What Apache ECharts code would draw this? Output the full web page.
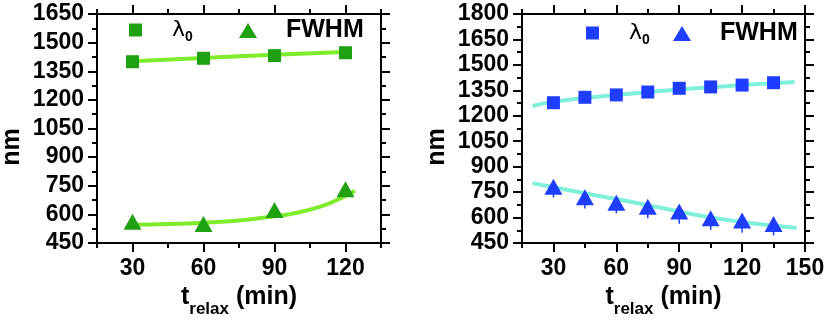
<!DOCTYPE html>
<html>
<head>
<meta charset="utf-8">
<script src="https://cdn.jsdelivr.net/npm/echarts@6/dist/echarts.min.js"></script>
<style>
  html, body { margin: 0; padding: 0; background: #fff; }
  #main { width: 830px; height: 320px; }
</style>
</head>
<body>
<div id="main"></div>
<script>
// left panel: measured points
const tLeft = [30, 60, 90, 120];
const lambdaLeft = [1400, 1418, 1432, 1447];
const fwhmLeft = [562, 550, 623, 732];
// left panel: fitted curves
const fitLambdaLeftT = [30, 60, 90, 122];
const fitLambdaLeftV = [1403, 1420, 1437, 1452];
const fitFwhmLeftT = [30, 45, 60, 75, 90, 100, 110, 118, 124];
const fitFwhmLeftV = [545, 549, 556, 568, 590, 610, 643, 685, 724];

// right panel: measured points
const tRight = [30, 45, 60, 75, 90, 105, 120, 135];
const lambdaRight = [1277, 1309, 1323, 1340, 1362, 1370, 1381, 1395];
const fwhmRight = [782, 719, 688, 664, 635, 596, 582, 562];
const fwhmErrRight = [63, 65, 63, 68, 72, 69, 71, 67];
// right panel: fitted curves
const fitLambdaRightT = [20, 30, 45, 60, 75, 90, 105, 120, 135, 145];
const fitLambdaRightV = [1258, 1283, 1305, 1323, 1340, 1355, 1368, 1381, 1392, 1399];
const fitFwhmRightT = [20, 30, 45, 60, 75, 90, 105, 120, 135, 146];
const fitFwhmRightV = [803, 779, 743, 709, 673, 636, 600, 574, 553, 538];

// tick labels
const xLabelsLeft = [30, 60, 90, 120];
const xLabelsRight = [30, 60, 90, 120, 150];

const FONT = 'Liberation Sans, Arial, sans-serif';
const GREEN = '#1fa010', GREEN_LINE = '#7eec2a';
const BLUE = '#1f3dff', BLUE_LINE = '#80f0da';

const zip = (a, b) => a.map((v, i) => [v, b[i]]);

const line = { show: true, lineStyle: { color: '#000', width: 2 } };
const tickStyle = { color: '#000', width: 2 };

function xAxes(g, min, max, labels) {
  const base = { gridIndex: g, type: 'value', min: min, max: max, interval: 15, splitLine: { show: false } };
  return [
    Object.assign({}, base, {
      position: 'bottom', axisLine: line,
      axisTick: { length: 5, lineStyle: tickStyle },
      axisLabel: { customValues: labels, color: '#000', fontFamily: FONT, fontWeight: 'bold', fontSize: 23, margin: 14 },
      name: '{t|t}{s|relax}{m| (min)}', nameLocation: 'middle', nameGap: 32,
      nameTextStyle: {
        color: '#000', fontFamily: FONT, fontWeight: 'bold',
        rich: {
          t: { fontSize: 25, fontFamily: FONT, fontWeight: 'bold', color: '#000' },
          s: { fontSize: 17, fontFamily: FONT, fontWeight: 'bold', color: '#000', padding: [24, 0, 0, 0] },
          m: { fontSize: 25, fontFamily: FONT, fontWeight: 'bold', color: '#000' }
        }
      }
    }),
    Object.assign({}, base, {
      position: 'bottom', axisLine: { show: false },
      axisTick: { customValues: labels, length: 9, lineStyle: tickStyle },
      axisLabel: { show: false }
    }),
    Object.assign({}, base, {
      position: 'top', axisLine: line,
      axisTick: { length: 5, lineStyle: tickStyle },
      axisLabel: { show: false }
    }),
    Object.assign({}, base, {
      position: 'top', axisLine: { show: false },
      axisTick: { customValues: labels, length: 9, lineStyle: tickStyle },
      axisLabel: { show: false }
    })
  ];
}

function yAxes(g, max) {
  const base = {
    gridIndex: g, type: 'value', min: 450, max: max, interval: 150, splitLine: { show: false },
    axisLine: line, axisTick: { length: 9, lineStyle: tickStyle },
    minorTick: { show: true, splitNumber: 2, length: 5, lineStyle: tickStyle },
    minorSplitLine: { show: false }
  };
  return [
    Object.assign({}, base, {
      position: 'left',
      axisLabel: { formatter: v => String(v), color: '#000', fontFamily: FONT, fontWeight: 'bold', fontSize: 23, margin: 13 },
      name: 'nm', nameLocation: 'middle', nameGap: 72,
      nameTextStyle: { color: '#000', fontFamily: FONT, fontWeight: 'bold', fontSize: 25, padding: [0, 37, 0, 0] }
    }),
    Object.assign({}, base, { position: 'right', axisLabel: { show: false } })
  ];
}

// only the lower half shows below the triangles
function errorBars(xi, yi, t, v, e, color) {
  return {
    type: 'custom', xAxisIndex: xi, yAxisIndex: yi, z: 1,
    data: t.map((x, i) => [x, v[i] - e[i], v[i]]),
    renderItem: function (params, api) {
      const lo = api.coord([api.value(0), api.value(1)]);
      const hi = api.coord([api.value(0), api.value(2)]);
      return { type: 'line', shape: { x1: lo[0], y1: lo[1], x2: hi[0], y2: hi[1] }, style: { stroke: color, lineWidth: 1.5 } };
    }
  };
}

function legend(name, icon, w, h, left, top, text) {
  return {
    data: [name], icon: icon, itemWidth: w, itemHeight: h, left: left, top: top, padding: 0,
    selectedMode: false,
    formatter: () => text,
    textStyle: {
      color: '#000',
      rich: {
        l: { fontSize: 22, fontFamily: 'DejaVu Sans', color: '#000', padding: [0, 0, 0, 25] },
        s: { fontSize: 14, fontFamily: FONT, fontWeight: 'bold', color: '#000', padding: [14, 0, 0, 0] },
        f: { fontSize: 25, fontFamily: FONT, fontWeight: 'bold', color: '#000', padding: [0, 0, 0, 24] }
      }
    }
  };
}

const chart = echarts.init(document.getElementById('main'), null, { renderer: 'canvas' });

const option = {
  backgroundColor: '#fff',
  animation: false,
  grid: [
    { left: 97, top: 14, width: 284, height: 229, outerBoundsMode: 'none' },
    { left: 522, top: 14, width: 283, height: 229, outerBoundsMode: 'none' }
  ],
  xAxis: xAxes(0, 15, 135, xLabelsLeft).concat(xAxes(1, 15, 150, xLabelsRight)),
  yAxis: yAxes(0, 1650).concat(yAxes(1, 1800)),
  legend: [
    legend('λ0 a', 'rect', 13, 13, 129, 19, '{l|λ}{s|0}'),
    legend('FWHM a', 'triangle', 18, 15, 239, 18, '{f|FWHM}'),
    legend('λ0 b', 'rect', 13, 13, 586, 22, '{l|λ}{s|0}'),
    legend('FWHM b', 'triangle', 18, 15, 673, 21, '{f|FWHM}')
  ],
  series: [
    { type: 'line', xAxisIndex: 0, yAxisIndex: 0, data: zip(fitLambdaLeftT, fitLambdaLeftV), smooth: true,
      showSymbol: false, lineStyle: { color: GREEN_LINE, width: 4 }, z: 1 },
    { type: 'line', xAxisIndex: 0, yAxisIndex: 0, data: zip(fitFwhmLeftT, fitFwhmLeftV), smooth: true,
      showSymbol: false, lineStyle: { color: GREEN_LINE, width: 4 }, z: 1 },
    { name: 'λ0 a', type: 'scatter', xAxisIndex: 0, yAxisIndex: 0, data: zip(tLeft, lambdaLeft),
      symbol: 'rect', symbolSize: 13, itemStyle: { color: GREEN, opacity: 1 }, z: 3 },
    { name: 'FWHM a', type: 'scatter', xAxisIndex: 0, yAxisIndex: 0, data: zip(tLeft, fwhmLeft),
      symbol: 'triangle', symbolSize: [18, 16], itemStyle: { color: GREEN, opacity: 1 }, z: 3 },

    { type: 'line', xAxisIndex: 4, yAxisIndex: 2, data: zip(fitLambdaRightT, fitLambdaRightV), smooth: true,
      showSymbol: false, lineStyle: { color: BLUE_LINE, width: 4 }, z: 1 },
    { type: 'line', xAxisIndex: 4, yAxisIndex: 2, data: zip(fitFwhmRightT, fitFwhmRightV), smooth: true,
      showSymbol: false, lineStyle: { color: BLUE_LINE, width: 4 }, z: 1 },
    errorBars(4, 2, tRight, fwhmRight, fwhmErrRight, BLUE),
    { name: 'λ0 b', type: 'scatter', xAxisIndex: 4, yAxisIndex: 2, data: zip(tRight, lambdaRight),
      symbol: 'rect', symbolSize: 13, itemStyle: { color: BLUE, opacity: 1 }, z: 3 },
    { name: 'FWHM b', type: 'scatter', xAxisIndex: 4, yAxisIndex: 2, data: zip(tRight, fwhmRight),
      symbol: 'triangle', symbolSize: [18, 16], itemStyle: { color: BLUE, opacity: 1 }, z: 3 }
  ]
};

chart.setOption(option);
</script>
</body>
</html>
